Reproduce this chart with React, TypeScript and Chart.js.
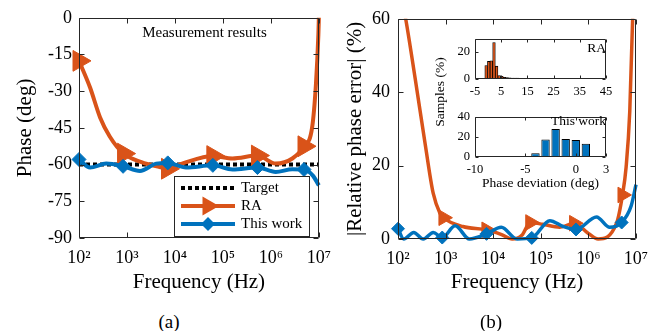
import React, { useEffect, useRef } from "react";
import { Chart, registerables } from "chart.js";
Chart.register(...registerables);

const SERIF = "'Liberation Serif', 'DejaVu Serif', serif";
const ORANGE = "#D95319";
const BLUE = "#0072BD";
const INK = "#262626";

// ---------- Panel (a): phase vs frequency ----------
const freqTicks = [1e2, 1e3, 1e4, 1e5, 1e6, 1e7];
const freqTickLabels = ["10²", "10³", "10⁴", "10⁵", "10⁶", "10⁷"];

const targetFreq = [1e2, 1e7];
const targetPhase = [-60, -60];

const raFreqA = [100, 170, 275, 437, 850, 2000, 4800, 7000, 14500, 61700, 158500, 525000, 1260000, 2800000, 4900000, 7240000, 8700000, 9770000, 10000000];
const raPhaseA = [-17.6, -28.5, -40.7, -48.5, -55.5, -59, -61, -61.7, -59.5, -56.5, -57.5, -56.3, -59.6, -57.5, -52.5, -44.8, -27, -6.8, 0];
const raMarkFreqA = [100, 850, 7000, 61700, 525000, 4900000];
const raMarkPhaseA = [-17.6, -55.5, -61.7, -56.5, -56.3, -52.5];

const oursFreqA = [100, 170, 370, 830, 1860, 4070, 7080, 17000, 61700, 158500, 525000, 1260000, 2800000, 4900000, 7500000, 10000000];
const oursPhaseA = [-57.9, -61.2, -59.6, -60.7, -62.6, -59.6, -59.3, -61.2, -60.3, -62, -61.2, -63, -61.9, -62, -64.5, -68.5];
const oursMarkFreqA = [100, 830, 7080, 61700, 525000, 4900000];
const oursMarkPhaseA = [-57.9, -60.7, -59.3, -60.3, -61.2, -62];

// ---------- Panel (b): relative phase error ----------
const raFreqB = [100, 145, 229, 372, 550, 760, 900, 2300, 7200, 15000, 25000, 40000, 60000, 110000, 250000, 500000, 1000000, 1600000, 3900000, 5200000, 6200000, 7400000, 8500000, 10000000];
const raErrB = [70.7, 60, 43.8, 25.9, 12.4, 7, 5.8, 3.4, 2.5, 1.2, 0, 1.0, 4.5, 4.0, 3.2, 4.3, 1.5, 0, 4.3, 12, 19.6, 34.8, 60, 100];
const raMarkFreqB = [100, 900, 7200, 60000, 500000, 5200000];
const raMarkErrB = [70.7, 5.8, 2.5, 4.5, 4.3, 12];

const oursFreqB = [100, 132, 214, 339, 550, 850, 1585, 3160, 7240, 14800, 31600, 64600, 155000, 295000, 550000, 1480000, 2800000, 5000000, 7900000, 10000000];
const oursErrB = [2.8, 0, 1.8, 0, 1.8, 0.4, 3.6, 0, 1.4, 3.2, 0, 0.3, 5.0, 3.4, 2.6, 6.0, 3.2, 4.5, 9.0, 14.8];
const oursMarkFreqB = [100, 850, 7240, 64600, 550000, 5000000];
const oursMarkErrB = [2.8, 0.4, 1.4, 0.3, 2.6, 4.5];

// ---------- Insets: histograms of phase deviation ----------
const raBinCenters = [-0.75, 0.25, 1.25, 2.25, 3.25, 4.25, 5.25, 6.25, 7.25, 8.25, 9.25, 10.25, 11.25, 12.25, 13.25, 14.25, 15.25, 16.25, 17.25, 18.25, 19.25, 20.25, 21.25, 22.25, 23.25, 24.25, 25.25, 26.25, 27.25, 28.25, 29.25, 30.25, 31.25, 32.25, 33.25, 34.25, 35.25, 36.25, 37.25, 38.25, 39.25, 40.25, 41.25, 42.25];
const raSamples = [10, 13, 13.5, 27, 9.5, 2.5, 2, 1.3, 1.1, 0.8, 0.7, 0.6, 0.6, 0.5, 0.5, 0.4, 0.4, 0.4, 0.4, 0.3, 0.3, 0.3, 0.3, 0.3, 0.3, 0.2, 0.2, 0.2, 0.2, 0.2, 0.2, 0.2, 0.2, 0.2, 0.2, 0.2, 0.2, 0.2, 0.2, 0.1, 0.1, 0.1, 0.1, 0.1];
const raDevTicks = [-5, 5, 15, 25, 35, 45];

const oursBinCenters = [-8, -7, -6, -5, -4, -3, -2, -1, 0, 1];
const oursSamples = [0.3, 0.4, 0.4, 0.5, 3.6, 17.4, 27.6, 17.7, 16.8, 13.2];
const oursDevTicks = [-10, -5, 0, 3];

const pts = (xs: number[], ys: number[]) => xs.map((x, i) => ({ x, y: ys[i] }));
const font = (size: number) => ({ family: SERIF, size, weight: "normal" as const });

// Box frame with inward ticks on all four sides (MATLAB style)
const framePlugin = {
  id: "frame",
  afterDraw(chart: any, _a: any, o: any) {
    const { ctx, chartArea: a } = chart;
    const len = o.tickLen ?? 5;
    const L = Math.round(a.left) + 0.5, R = Math.round(a.right) - 0.5;
    const T = Math.round(a.top) + 0.5, B = Math.round(a.bottom) - 0.5;
    ctx.save();
    ctx.strokeStyle = INK;
    ctx.lineWidth = 1;
    ctx.beginPath();
    ctx.moveTo(L, T); ctx.lineTo(R, T); ctx.lineTo(R, B); ctx.lineTo(L, B); ctx.closePath();
    const xs = chart.scales.x, ys = chart.scales.y;
    xs.ticks.forEach((t: any) => {
      const p = Math.round(xs.getPixelForValue(t.value)) + 0.5;
      ctx.moveTo(p, B); ctx.lineTo(p, B - len);
      ctx.moveTo(p, T); ctx.lineTo(p, T + len);
    });
    ys.ticks.forEach((t: any) => {
      const p = Math.round(ys.getPixelForValue(t.value)) + 0.5;
      ctx.moveTo(L, p); ctx.lineTo(L + len, p);
      ctx.moveTo(R, p); ctx.lineTo(R - len, p);
    });
    ctx.stroke();
    ctx.restore();
  },
};

// Free text placed relative to the plot area (or to the canvas when abs is set)
const notesPlugin = {
  id: "notes",
  afterDraw(chart: any, _a: any, o: any) {
    const { ctx, chartArea: a } = chart;
    ctx.save();
    (o.items || []).forEach((it: any) => {
      const x = it.abs ? it.x : a.left + it.fx * a.width;
      const y = it.abs ? it.y : a.top + it.fy * a.height;
      ctx.save();
      ctx.translate(x, y);
      if (it.rotate) ctx.rotate(it.rotate);
      ctx.font = `${it.size}px ${SERIF}`;
      ctx.fillStyle = "#000";
      ctx.textAlign = it.align || "center";
      ctx.textBaseline = "middle";
      ctx.fillText(it.text, 0, 0);
      ctx.restore();
    });
    ctx.restore();
  },
};

function drawMarker(ctx: any, kind: string, x: number, y: number, r: number, color: string) {
  ctx.beginPath();
  if (kind === "triangle") {
    ctx.moveTo(x + r, y);
    ctx.lineTo(x - 0.5 * r, y + 0.866 * r);
    ctx.lineTo(x - 0.5 * r, y - 0.866 * r);
  } else {
    ctx.moveTo(x - r, y); ctx.lineTo(x, y - r); ctx.lineTo(x + r, y); ctx.lineTo(x, y + r);
  }
  ctx.closePath();
  ctx.fillStyle = color;
  ctx.fill();
}

// Boxed legend inside the plot area (lower right)
const boxLegendPlugin = {
  id: "boxLegend",
  afterDraw(chart: any, _a: any, o: any) {
    const { ctx, chartArea: a } = chart;
    const x = Math.round(a.right - o.right - o.width);
    const y = Math.round(a.bottom - o.bottom - o.height);
    ctx.save();
    ctx.fillStyle = "#fff";
    ctx.fillRect(x, y, o.width, o.height);
    ctx.strokeStyle = INK;
    ctx.lineWidth = 1;
    ctx.strokeRect(x + 0.5, y + 0.5, o.width, o.height);
    (o.items || []).forEach((it: any, i: number) => {
      const cy = y + o.rowTop + i * o.rowGap;
      ctx.strokeStyle = it.color;
      ctx.lineWidth = it.width;
      ctx.setLineDash(it.dash || []);
      ctx.beginPath();
      ctx.moveTo(x + o.lineStart, cy);
      ctx.lineTo(x + o.lineEnd, cy);
      ctx.stroke();
      ctx.setLineDash([]);
      if (it.marker) drawMarker(ctx, it.marker, x + (o.lineStart + o.lineEnd) / 2, cy, it.radius, it.color);
      ctx.fillStyle = "#000";
      ctx.font = `${o.size}px ${SERIF}`;
      ctx.textAlign = "left";
      ctx.textBaseline = "middle";
      ctx.fillText(it.label, x + o.textStart, cy);
    });
    ctx.restore();
  },
};

const logX = (axisHeight: number, title: string) => ({
  type: "logarithmic" as const,
  min: 1e2,
  max: 1e7,
  afterBuildTicks: (s: any) => { s.ticks = freqTicks.map((v) => ({ value: v })); },
  afterFit: (s: any) => { s.height = axisHeight; },
  ticks: {
    callback: (v: any) => freqTickLabels[freqTicks.indexOf(Number(v))],
    font: font(18), color: "#000", padding: 9, maxRotation: 0, minRotation: 0, autoSkip: false,
  },
  grid: { display: false, drawTicks: false },
  border: { display: false },
  title: { display: true, text: title, font: font(21), color: "#000", padding: { top: 0, bottom: 5 } },
});

export default function App() {
  const aRef = useRef<HTMLCanvasElement>(null);
  const bRef = useRef<HTMLCanvasElement>(null);
  const hTopRef = useRef<HTMLCanvasElement>(null);
  const hBotRef = useRef<HTMLCanvasElement>(null);

  useEffect(() => {
    const charts: Chart[] = [];

    charts.push(new Chart(aRef.current as HTMLCanvasElement, {
      type: "line",
      data: {
        datasets: [
          { label: "Target", data: pts(targetFreq, targetPhase), borderColor: "#000", borderWidth: 4, borderDash: [4, 3], pointRadius: 0, order: 5 },
          { label: "RA", data: pts(raFreqA, raPhaseA), borderColor: ORANGE, borderWidth: 4, pointRadius: 0, cubicInterpolationMode: "monotone", order: 4 },
          { label: "RA markers", data: pts(raMarkFreqA, raMarkPhaseA), showLine: false, pointStyle: "triangle", pointRotation: 90, pointRadius: 12, pointBackgroundColor: ORANGE, pointBorderColor: ORANGE, pointBorderWidth: 1, order: 3 },
          { label: "This work", data: pts(oursFreqA, oursPhaseA), borderColor: BLUE, borderWidth: 4, pointRadius: 0, cubicInterpolationMode: "monotone", order: 2 },
          { label: "This work markers", data: pts(oursMarkFreqA, oursMarkPhaseA), showLine: false, pointStyle: "rectRot", pointRadius: 7, pointBackgroundColor: BLUE, pointBorderColor: BLUE, pointBorderWidth: 1, order: 1 },
        ] as any,
      },
      options: {
        animation: false, responsive: false, maintainAspectRatio: false,
        layout: { padding: { top: 17, right: 20, left: 0, bottom: 0 } },
        datasets: { line: { clip: false } } as any,
        plugins: {
          legend: { display: false }, tooltip: { enabled: false },
          frame: { tickLen: 5 },
          notes: { items: [{ text: "Measurement results", fx: 0.523, fy: 0.068, size: 15 }] },
          boxLegend: {
            right: 10, bottom: 2, width: 135, height: 60, rowTop: 12, rowGap: 18,
            lineStart: 7, lineEnd: 61, textStart: 67, size: 15,
            items: [
              { label: "Target", color: "#000", width: 4, dash: [4, 3] },
              { label: "RA", color: ORANGE, width: 4, marker: "triangle", radius: 11 },
              { label: "This work", color: BLUE, width: 4, marker: "diamond", radius: 7 },
            ],
          },
        } as any,
        scales: {
          x: logX(62, "Frequency (Hz)"),
          y: {
            min: -90, max: 0,
            afterFit: (s: any) => { s.width = 79; },
            ticks: { stepSize: 15, font: font(18), color: "#000", padding: 7 },
            grid: { display: false, drawTicks: false },
            border: { display: false },
            title: { display: true, text: "Phase (deg)", font: font(21), color: "#000", padding: { top: 13, bottom: 0 } },
          },
        } as any,
      },
      plugins: [framePlugin, notesPlugin, boxLegendPlugin] as any,
    }));

    const clipB = { left: 12, right: 12, top: 0, bottom: 12 };
    charts.push(new Chart(bRef.current as HTMLCanvasElement, {
      type: "line",
      data: {
        datasets: [
          { label: "RA", data: pts(raFreqB, raErrB), borderColor: ORANGE, borderWidth: 3.5, pointRadius: 0, cubicInterpolationMode: "monotone", clip: clipB, order: 4 },
          { label: "RA markers", data: pts(raMarkFreqB, raMarkErrB), showLine: false, pointStyle: "triangle", pointRotation: 90, pointRadius: 9, pointBackgroundColor: ORANGE, pointBorderColor: ORANGE, clip: clipB, order: 3 },
          { label: "This work", data: pts(oursFreqB, oursErrB), borderColor: BLUE, borderWidth: 3.5, pointRadius: 0, cubicInterpolationMode: "monotone", clip: clipB, order: 2 },
          { label: "This work markers", data: pts(oursMarkFreqB, oursMarkErrB), showLine: false, pointStyle: "rectRot", pointRadius: 6.5, pointBackgroundColor: BLUE, pointBorderColor: BLUE, clip: clipB, order: 1 },
        ] as any,
      },
      options: {
        animation: false, responsive: false, maintainAspectRatio: false,
        layout: { padding: { top: 17, right: 22, left: 0, bottom: 0 } },
        plugins: { legend: { display: false }, tooltip: { enabled: false }, frame: { tickLen: 5 } } as any,
        scales: {
          x: logX(61, "Frequency (Hz)"),
          y: {
            min: 0, max: 60,
            afterFit: (s: any) => { s.width = 68; },
            ticks: { stepSize: 20, font: font(18), color: "#000", padding: 8 },
            grid: { display: false, drawTicks: false },
            border: { display: false },
            title: { display: true, text: "|Relative phase error| (%)", font: font(21), color: "#000", padding: { top: 13, bottom: 0 } },
          },
        } as any,
      },
      plugins: [framePlugin] as any,
    }));

    const histOptions = (xMin: number, xMax: number, xTicks: number[], yMax: number, yStep: number, xAxisH: number, padBottom: number, notes: any[], xTitle?: string) => ({
      animation: false, responsive: false, maintainAspectRatio: false,
      layout: { padding: { top: 8, right: 14, left: 0, bottom: padBottom } },
      plugins: {
        legend: { display: false }, tooltip: { enabled: false },
        frame: { tickLen: 3 },
        notes: { items: notes },
      },
      scales: {
        x: {
          type: "linear", min: xMin, max: xMax, offset: false,
          afterBuildTicks: (s: any) => { s.ticks = xTicks.map((v) => ({ value: v })); },
          afterFit: (s: any) => { s.height = xAxisH; },
          ticks: { font: font(12.5), color: "#000", padding: 5, maxRotation: 0, minRotation: 0, autoSkip: false },
          grid: { display: false, drawTicks: false, offset: false },
          border: { display: false },
          title: xTitle ? { display: true, text: xTitle, font: font(13.5), color: "#000", padding: { top: 0, bottom: 2 } } : { display: false },
        },
        y: {
          min: 0, max: yMax,
          afterFit: (s: any) => { s.width = 55; },
          ticks: { stepSize: yStep, font: font(12.5), color: "#000", padding: 5 },
          grid: { display: false, drawTicks: false },
          border: { display: false },
        },
      },
    });

    charts.push(new Chart(hTopRef.current as HTMLCanvasElement, {
      type: "bar",
      data: { datasets: [{ data: pts(raBinCenters, raSamples), backgroundColor: ORANGE, borderColor: "#000", borderWidth: 0.8, barPercentage: 1, categoryPercentage: 1 }] as any },
      options: histOptions(-5, 45, raDevTicks, 30, 10, 23, 92, [
        { text: "RA", fx: 1.0, fy: 0.24, size: 13.5, align: "right" },
        { text: "Samples (%)", abs: true, x: 20, y: 66, rotate: -Math.PI / 2, size: 13.5 },
      ]) as any,
      plugins: [framePlugin, notesPlugin] as any,
    }));

    charts.push(new Chart(hBotRef.current as HTMLCanvasElement, {
      type: "bar",
      data: { datasets: [{ data: pts(oursBinCenters, oursSamples), backgroundColor: BLUE, borderColor: "#000", borderWidth: 1, barPercentage: 0.83, categoryPercentage: 1 }] as any },
      options: histOptions(-10, 3, oursDevTicks, 40, 20, 37, 0, [
        { text: "This work", fx: 1.0, fy: 0.13, size: 13.5, align: "right" },
      ], "Phase deviation (deg)") as any,
      plugins: [framePlugin, notesPlugin] as any,
    }));

    return () => charts.forEach((c) => c.destroy());
  }, []);

  const abs = (l: number, t: number, w: number, h: number): React.CSSProperties => ({ position: "absolute", left: l, top: t, width: w, height: h });
  const caption = (x: number, y: number): React.CSSProperties => ({
    position: "absolute", left: x, top: y, transform: "translate(-50%, -50%)", fontFamily: SERIF, fontSize: 19, fontWeight: 400, color: "#000", whiteSpace: "nowrap", lineHeight: 1,
  });

  return (
    <div style={{ position: "absolute", left: 0, top: 0, width: 658, height: 331, background: "#fff", overflow: "hidden" }}>
      <canvas ref={aRef} width={340} height={300} style={abs(0, 0, 340, 300)} />
      <canvas ref={bRef} width={328} height={300} style={abs(330, 0, 328, 300)} />
      <canvas ref={hBotRef} width={200} height={90} style={abs(420, 104, 200, 90)} />
      <canvas ref={hTopRef} width={200} height={168} style={abs(420, 26, 200, 168)} />
      <div style={caption(169, 321)}>(a)</div>
      <div style={caption(491, 321)}>(b)</div>
    </div>
  );
}
